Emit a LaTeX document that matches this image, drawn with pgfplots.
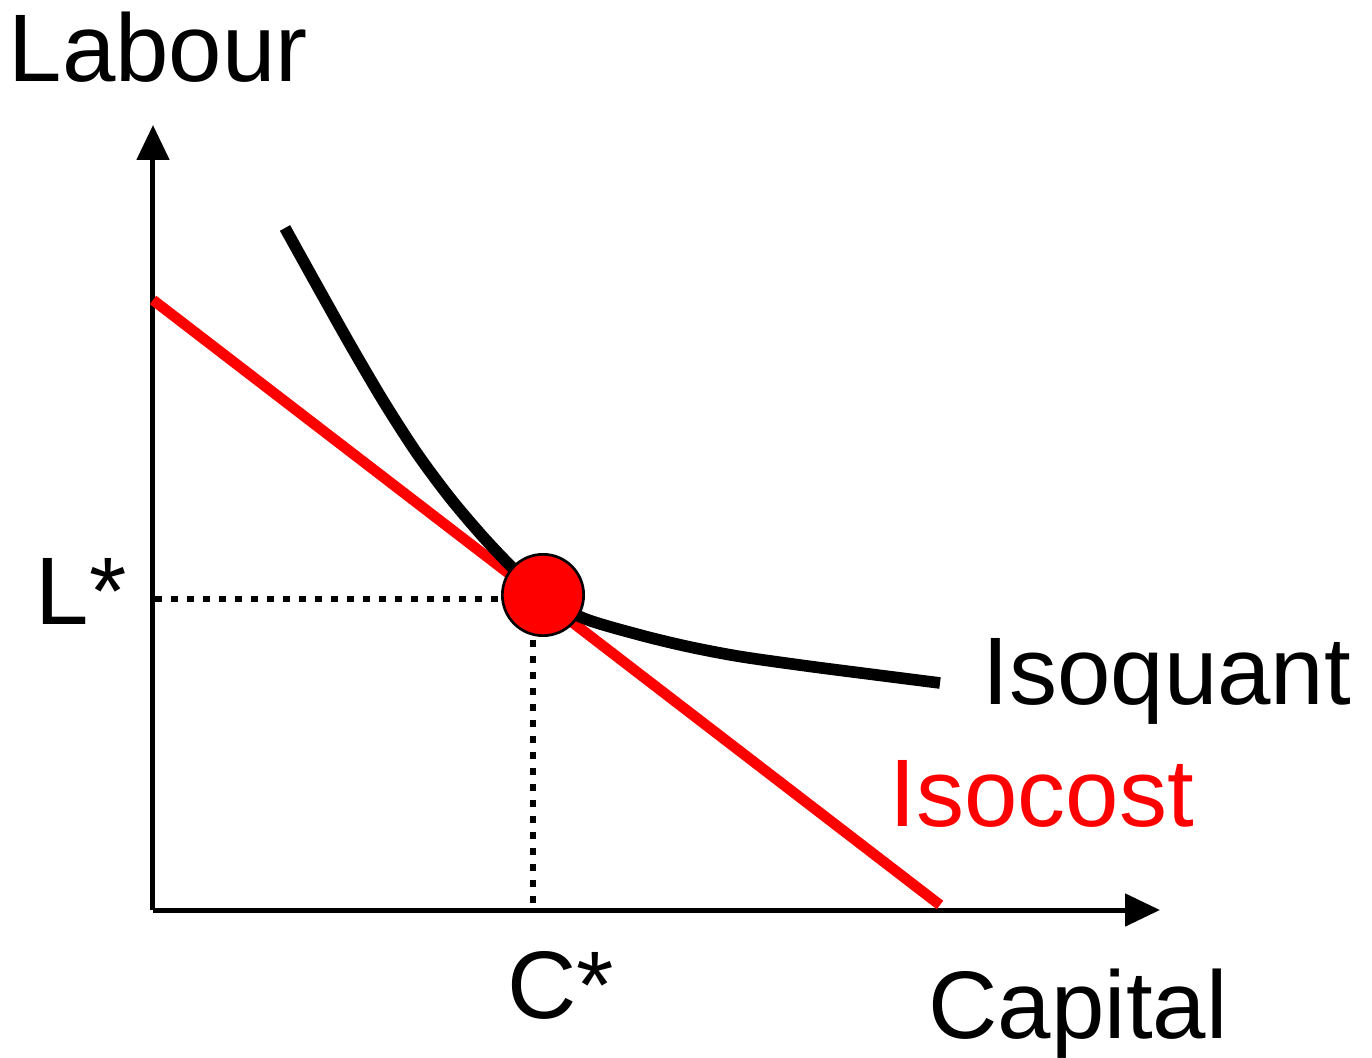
\documentclass[border=0pt]{standalone}
\usepackage{fontspec}
\setmainfont{Liberation Sans}
\usepackage{pgfplots}
\pgfplotsset{compat=1.18}
\usetikzlibrary{arrows.meta}
\definecolor{isored}{HTML}{FF0000}

\begin{document}
\begin{tikzpicture}
\tikzset{lbl/.style={font=\fontsize{28.8}{34}\selectfont, inner sep=0pt, anchor=base west}}
\begin{axis}[
  scale only axis,
  width=302.1pt,
  height=235.5pt,
  xmin=0, xmax=1007,
  ymin=0, ymax=785,
  axis lines=left,
  axis line style={line width=1.5pt, -{Triangle[length=10.5pt,width=9.6pt]}},
  xtick=\empty, ytick=\empty,
  clip=false,
]
% invisible frame that fixes the page size
\path (axis cs:-153,-143) rectangle (axis cs:1219,910);

% guide lines to the optimum
\addplot[black, line width=2pt, dash pattern=on 2.1pt off 2.7pt] coordinates {(2,311) (350,311)};
\addplot[black, line width=2pt, dash pattern=on 2.1pt off 2.7pt] coordinates {(380,270) (380,3)};

% isocost
\addplot[isored, line width=3.2pt] coordinates {(0,610) (787,5)};

% isoquant
\addplot[black, line width=3.5pt, smooth] coordinates {
  (132,682) (165,622.6) (198,563.9) (231,507.8) (264,456.6) (297,412.1)
  (330,373.2) (360,341.7) (390,315) (430,292) (487,275) (537,263)
  (587,253.5) (654,244) (720,235.5) (787,227)};

% optimum
\addplot[only marks, mark=*, mark size=12.2pt,
  mark options={fill=isored, draw=black, line width=0.8pt}] coordinates {(390,315)};

\node[lbl] at (axis cs:-145,828) {Labour};
\node[lbl] at (axis cs:-118,285) {L*};
\node[lbl] at (axis cs:354,-108) {C*};
\node[lbl] at (axis cs:775,-128) {Capital};
\node[lbl] at (axis cs:829,205) {Isoquant};
\node[lbl, text=isored] at (axis cs:736,84) {Isocost};
\end{axis}
\end{tikzpicture}
\end{document}
